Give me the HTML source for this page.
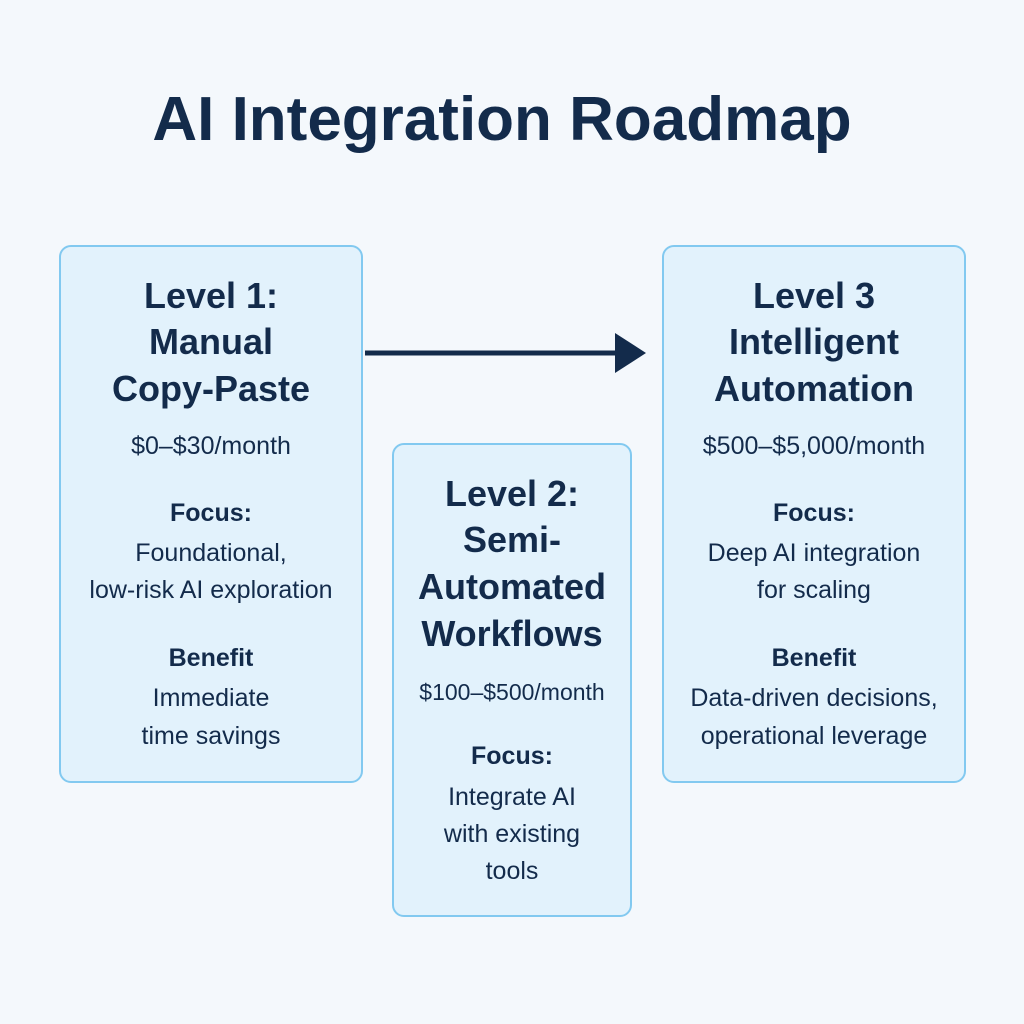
<!DOCTYPE html>
<html><head><meta charset="utf-8"><style>
html,body{margin:0;padding:0}
body{width:1024px;height:1024px;background:#f4f8fc;position:relative;overflow:hidden;font-family:"Liberation Sans","DejaVu Sans",sans-serif;color:#132b4b}
.box{position:absolute;background:#e2f2fc;border:2.5px solid #82c9f0;border-radius:12px;box-sizing:border-box}
.t{position:absolute;text-align:center;white-space:nowrap;line-height:40px;height:40px}
.h{font-weight:bold;font-size:36px}
.s{font-size:25px}
.b{font-size:25px;font-weight:bold}
</style></head><body>
<div class="t" style="left:0;width:1004px;top:88px;height:64px;line-height:64px;font-size:62px;font-weight:bold;">AI Integration Roadmap</div>

<div class="box" style="left:59px;top:245px;width:304px;height:538px"></div>
<div class="box" style="left:392px;top:443px;width:240px;height:474px"></div>
<div class="box" style="left:662px;top:245px;width:304px;height:538px"></div>

<svg style="position:absolute;left:0;top:0" width="1024" height="1024">
<line x1="365" y1="353" x2="620" y2="353" stroke="#132b4b" stroke-width="5"/>
<polygon points="615,333 646,353 615,373" fill="#132b4b"/>
</svg>

<!-- box1 -->
<div class="t h" style="left:59px;width:304px;top:276px">Level 1:</div>
<div class="t h" style="left:59px;width:304px;top:322px">Manual</div>
<div class="t h" style="left:59px;width:304px;top:369px">Copy-Paste</div>
<div class="t s" style="left:59px;width:304px;top:426px">$0–$30/month</div>
<div class="t b" style="left:59px;width:304px;top:493px">Focus:</div>
<div class="t s" style="left:59px;width:304px;top:533px">Foundational,</div>
<div class="t s" style="left:59px;width:304px;top:570px">low-risk AI exploration</div>
<div class="t b" style="left:59px;width:304px;top:638px">Benefit</div>
<div class="t s" style="left:59px;width:304px;top:678px">Immediate</div>
<div class="t s" style="left:59px;width:304px;top:716px">time savings</div>

<!-- box2 -->
<div class="t h" style="left:392px;width:240px;top:474px">Level 2:</div>
<div class="t h" style="left:392px;width:240px;top:520px">Semi-</div>
<div class="t h" style="left:392px;width:240px;top:567px">Automated</div>
<div class="t h" style="left:392px;width:240px;top:614px">Workflows</div>
<div class="t s" style="left:392px;width:240px;top:672px;font-size:23px">$100–$500/month</div>
<div class="t b" style="left:392px;width:240px;top:736px">Focus:</div>
<div class="t s" style="left:392px;width:240px;top:777px">Integrate AI</div>
<div class="t s" style="left:392px;width:240px;top:814px">with existing</div>
<div class="t s" style="left:392px;width:240px;top:851px">tools</div>

<!-- box3 -->
<div class="t h" style="left:662px;width:304px;top:276px">Level 3</div>
<div class="t h" style="left:662px;width:304px;top:322px">Intelligent</div>
<div class="t h" style="left:662px;width:304px;top:369px">Automation</div>
<div class="t s" style="left:662px;width:304px;top:426px">$500–$5,000/month</div>
<div class="t b" style="left:662px;width:304px;top:493px">Focus:</div>
<div class="t s" style="left:662px;width:304px;top:533px">Deep AI integration</div>
<div class="t s" style="left:662px;width:304px;top:570px">for scaling</div>
<div class="t b" style="left:662px;width:304px;top:638px">Benefit</div>
<div class="t s" style="left:662px;width:304px;top:678px">Data-driven decisions,</div>
<div class="t s" style="left:662px;width:304px;top:716px">operational leverage</div>
</body></html>
